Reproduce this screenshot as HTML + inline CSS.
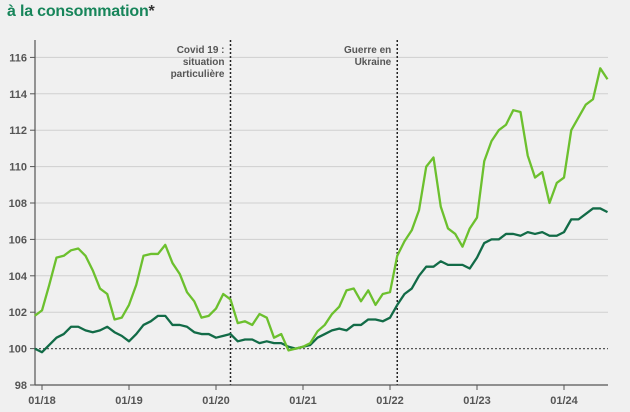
<!DOCTYPE html>
<html><head><meta charset="utf-8">
<style>
html,body{margin:0;padding:0;background:#f0f0f0;}
body{width:630px;height:412px;overflow:hidden;position:relative;font-family:"Liberation Sans",sans-serif;}
#title{position:absolute;left:7px;top:3px;font-size:16px;font-weight:bold;color:#17855a;letter-spacing:-0.2px;}
svg{position:absolute;left:0;top:0;}
</style></head>
<body>
<div id="title">à la consommation<span style="color:#333">*</span></div>
<svg id="chart" width="630" height="412"></svg>
<script>
const startYear = 2017, startMonth = 12;
const yTicks = [98,100,102,104,106,108,110,112,114,116];
const xTickLabels = ["01/18","01/19","01/20","01/21","01/22","01/23","01/24"];
const xTickYears = [2018,2019,2020,2021,2022,2023,2024];
const seriesLight = [101.8,
102.1,103.5,105.0,105.1,105.4,105.5,105.1,104.3,103.3,103.0,101.6,101.7,
102.4,103.5,105.1,105.2,105.2,105.7,104.7,104.1,103.1,102.6,101.7,101.8,
102.2,103.0,102.7,101.4,101.5,101.3,101.9,101.7,100.6,100.8,99.9,100.0,
100.1,100.3,100.95,101.3,101.9,102.3,103.2,103.3,102.6,103.2,102.4,103.0,
103.1,105.1,105.9,106.5,107.6,110.0,110.5,107.8,106.6,106.3,105.6,106.6,
107.2,110.3,111.4,112.0,112.3,113.1,113.0,110.6,109.4,109.7,108.0,109.1,
109.4,112.0,112.7,113.4,113.7,115.4,114.8];
const seriesDark = [100.0,
99.8,100.2,100.6,100.8,101.2,101.2,101.0,100.9,101.0,101.2,100.9,100.7,
100.4,100.8,101.3,101.5,101.8,101.8,101.3,101.3,101.2,100.9,100.8,100.8,
100.6,100.7,100.8,100.4,100.5,100.5,100.3,100.4,100.3,100.3,100.1,100.0,
100.1,100.2,100.6,100.8,101.0,101.1,101.0,101.3,101.3,101.6,101.6,101.5,
101.7,102.4,103.0,103.3,104.0,104.5,104.5,104.8,104.6,104.6,104.6,104.4,
105.0,105.8,106.0,106.0,106.3,106.3,106.2,106.4,106.3,106.4,106.2,106.2,
106.4,107.1,107.1,107.4,107.7,107.7,107.5];
const eventLabels = [["Covid 19 :","situation","particulière"],["Guerre en","Ukraine"]];
const eventDates = [[2020,3],[2022,2]];

const NS="http://www.w3.org/2000/svg";
const svg=document.getElementById('chart');
const X0=35, X1=608, YTOP=40, YBOT=385;
function xOf(year,month){return 42+((year-2018)*12+(month-1))*7.25;}
function xIdx(i){const m=startMonth-1+i;return xOf(startYear+Math.floor(m/12),(m%12)+1);}
function yOf(v){return 348.6-(v-100)*18.2;}
function el(tag,attrs,parent){const e=document.createElementNS(NS,tag);for(const k in attrs)e.setAttribute(k,attrs[k]);(parent||svg).appendChild(e);return e;}

yTicks.forEach(t=>{
  const y=yOf(t);
  if(t!==98&&t!==100){const g=el('line',{x1:X0,x2:X1,y1:y,y2:y,stroke:'#cfcfcf','stroke-width':1});
  
  }
  const tk=el('line',{x1:X0-5,x2:X0,y1:y,y2:y,stroke:'#555','stroke-width':1});
  
  
  const tx=el('text',{x:X0-8,y:y+4,'text-anchor':'end','font-size':'11','font-weight':'bold',fill:'#555','font-family':'Liberation Sans, sans-serif'});
  tx.textContent=t;
  
  
});
const base=el('line',{x1:X0,x2:X1,y1:yOf(100),y2:yOf(100),stroke:'#555','stroke-width':1.2,'stroke-dasharray':'2,2'});



xTickYears.forEach((yr,i)=>{
  const x=xOf(yr,1);
  const tk=el('line',{x1:x,x2:x,y1:YBOT,y2:YBOT+5,stroke:'#555','stroke-width':1});
  
  
  const tx=el('text',{x:x,y:YBOT+19,'text-anchor':'middle','font-size':'11','font-weight':'bold',fill:'#555','font-family':'Liberation Sans, sans-serif'});
  tx.textContent=xTickLabels[i];
  
  
});

eventDates.forEach((d,i)=>{
  const x=xOf(d[0],d[1]);
  const l=el('line',{x1:x,x2:x,y1:YTOP,y2:YBOT,stroke:'#222','stroke-width':1.5,'stroke-dasharray':'2,2'});
  
  
  eventLabels[i].forEach((s,j)=>{
    const t=el('text',{x:x-6,y:YTOP+13+j*12,'text-anchor':'end','font-size':'10','font-weight':'bold',fill:'#555','font-family':'Liberation Sans, sans-serif'});
    t.textContent=s;
    
    
  });
});

const ax=el('line',{x1:X0,x2:X0,y1:YTOP,y2:YBOT,stroke:'#555','stroke-width':1.2});


const bx=el('line',{x1:X0,x2:X1,y1:YBOT,y2:YBOT,stroke:'#555','stroke-width':1.2});



function drawLine(data,color,name){
  const pts=data.map((v,i)=>xIdx(i).toFixed(2)+','+yOf(v).toFixed(2)).join(' ');
  const p=el('polyline',{points:pts,fill:'none',stroke:color,'stroke-width':2.3,'stroke-linejoin':'round'});
  
  
}
drawLine(seriesDark,'#126b47','series-dark-line');
drawLine(seriesLight,'#6cc02e','series-light-line');
</script>
</body></html>
